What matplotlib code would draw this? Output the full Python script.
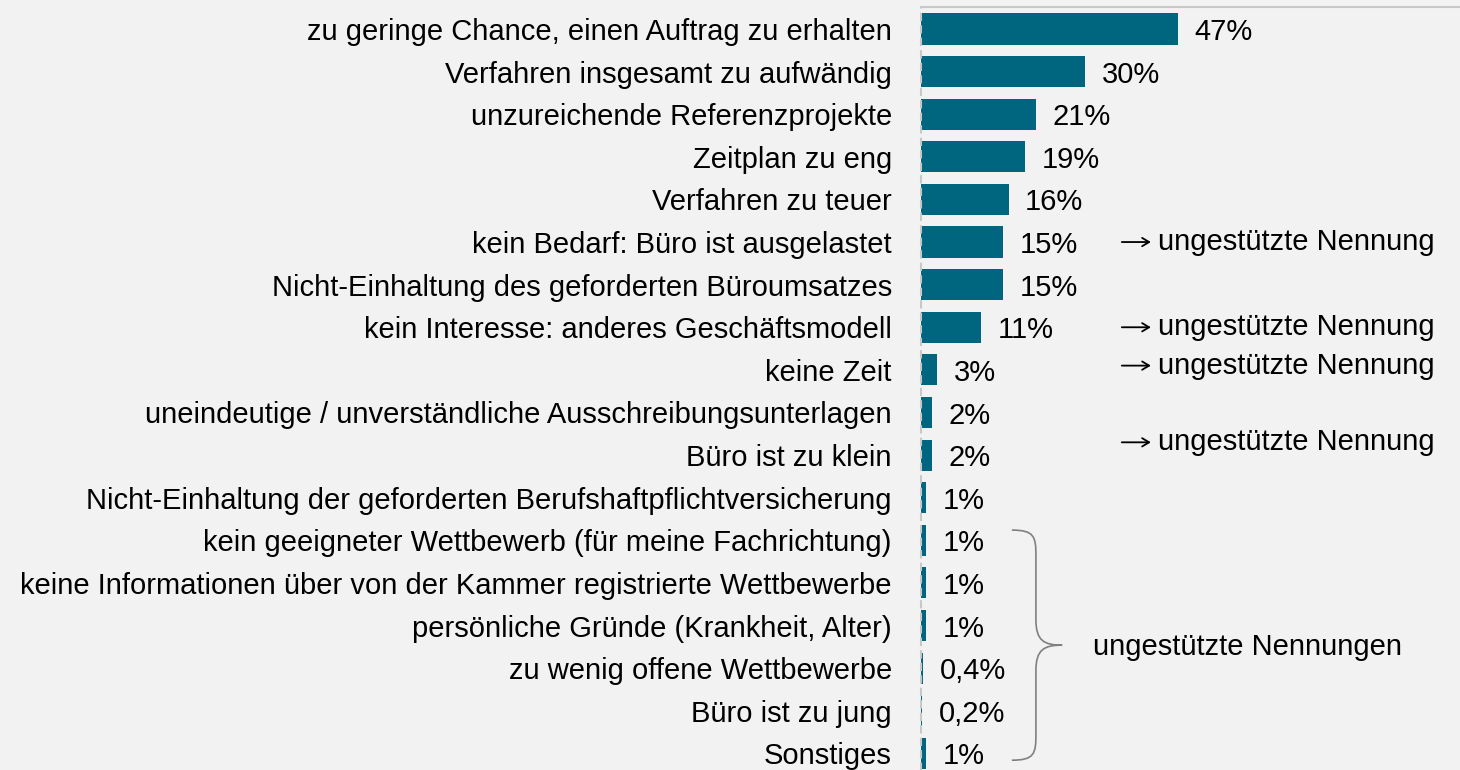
import matplotlib
matplotlib.use("Agg")
import matplotlib.pyplot as plt
from matplotlib.path import Path
from matplotlib.patches import PathPatch

plt.rcParams['font.family'] = ['Liberation Sans', 'DejaVu Sans']

categories = [
    "zu geringe Chance, einen Auftrag zu erhalten",
    "Verfahren insgesamt zu aufwändig",
    "unzureichende Referenzprojekte",
    "Zeitplan zu eng",
    "Verfahren zu teuer",
    "kein Bedarf: Büro ist ausgelastet",
    "Nicht-Einhaltung des geforderten Büroumsatzes",
    "kein Interesse: anderes Geschäftsmodell",
    "keine Zeit",
    "uneindeutige / unverständliche Ausschreibungsunterlagen",
    "Büro ist zu klein",
    "Nicht-Einhaltung der geforderten Berufshaftpflichtversicherung",
    "kein geeigneter Wettbewerb (für meine Fachrichtung)",
    "keine Informationen über von der Kammer registrierte Wettbewerbe",
    "persönliche Gründe (Krankheit, Alter)",
    "zu wenig offene Wettbewerbe",
    "Büro ist zu jung",
    "Sonstiges",
]
values = [47, 30, 21, 19, 16, 15, 15, 11, 3, 2, 2, 1, 1, 1, 1, 0.4, 0.2, 1]
value_labels = ["47%", "30%", "21%", "19%", "16%", "15%", "15%", "11%", "3%",
                "2%", "2%", "1%", "1%", "1%", "1%", "0,4%", "0,2%", "1%"]

# rows marked as unprompted answers, with the vertical position of the note
note_rows = [5.0, 7.0, 7.9, 9.7]
note_text = "ungestützte Nennung"
group_text = "ungestützte Nennungen"

BG = "#f2f2f2"
BAR = "#00657f"

fig = plt.figure(figsize=(14.6, 7.7), dpi=100, facecolor=BG)
ax = fig.add_axes([921 / 1460, 0.0, 1 - 921 / 1460, 1 - 7 / 770])
ax.set_facecolor(BG)

y = list(range(len(categories)))
ax.barh(y, values, height=0.73, color=BAR)

ax.set_xlim(0, 98.5)
ax.set_ylim(17.39, -0.516)

ax.set_yticks(y)
ax.set_yticklabels(categories, fontsize=21)
ax.tick_params(axis='y', length=0, pad=21)
ax.set_xticks([])

for s in ("right", "bottom"):
    ax.spines[s].set_visible(False)
ax.spines["top"].set_color("#c8c8c8")
ax.spines["top"].set_linewidth(1.5)
ax.spines["left"].set_color("#c8c8c8")
ax.spines["left"].set_linewidth(1.5)
ax.spines["left"].set_linestyle((0, (3, 3)))

for yi, v, lab in zip(y, values, value_labels):
    ax.annotate(lab, (v, yi), xytext=(12, -2.2), textcoords="offset points",
                va="center", ha="left", fontsize=21)

for yr in note_rows:
    ax.annotate("", xy=(42.0, yr), xytext=(36.7, yr),
                arrowprops=dict(arrowstyle="->,head_length=0.5,head_width=0.3",
                                lw=1.3, color="black",
                                shrinkA=0, shrinkB=0))
    ax.text(43.3, yr, note_text, va="center", ha="left", fontsize=21)

# curly brace spanning the unprompted group
x0, x1, x2 = 16.6, 21.0, 25.8
ytop, ymid, ybot = 11.76, 14.46, 17.16
verts = [
    (x0, ytop),
    (x1 - 0.3, ytop), (x1, ytop + 0.15), (x1, ytop + 0.6),
    (x1, ymid - 0.6),
    (x1, ymid - 0.1), (x1 + 1.5, ymid), (x2, ymid),
    (x1 + 1.5, ymid), (x1, ymid + 0.1), (x1, ymid + 0.6),
    (x1, ybot - 0.6),
    (x1, ybot - 0.15), (x1 - 0.3, ybot), (x0, ybot),
]
codes = [Path.MOVETO,
         Path.CURVE4, Path.CURVE4, Path.CURVE4,
         Path.LINETO,
         Path.CURVE4, Path.CURVE4, Path.CURVE4,
         Path.CURVE4, Path.CURVE4, Path.CURVE4,
         Path.LINETO,
         Path.CURVE4, Path.CURVE4, Path.CURVE4]
brace = PathPatch(Path(verts, codes), facecolor="none", edgecolor="#808080",
                  linewidth=1.2, clip_on=False)
ax.add_patch(brace)
ax.text(31.5, ymid + 0.05, group_text, va="center", ha="left", fontsize=21)

fig.savefig("out.png", dpi=100, facecolor=BG)
